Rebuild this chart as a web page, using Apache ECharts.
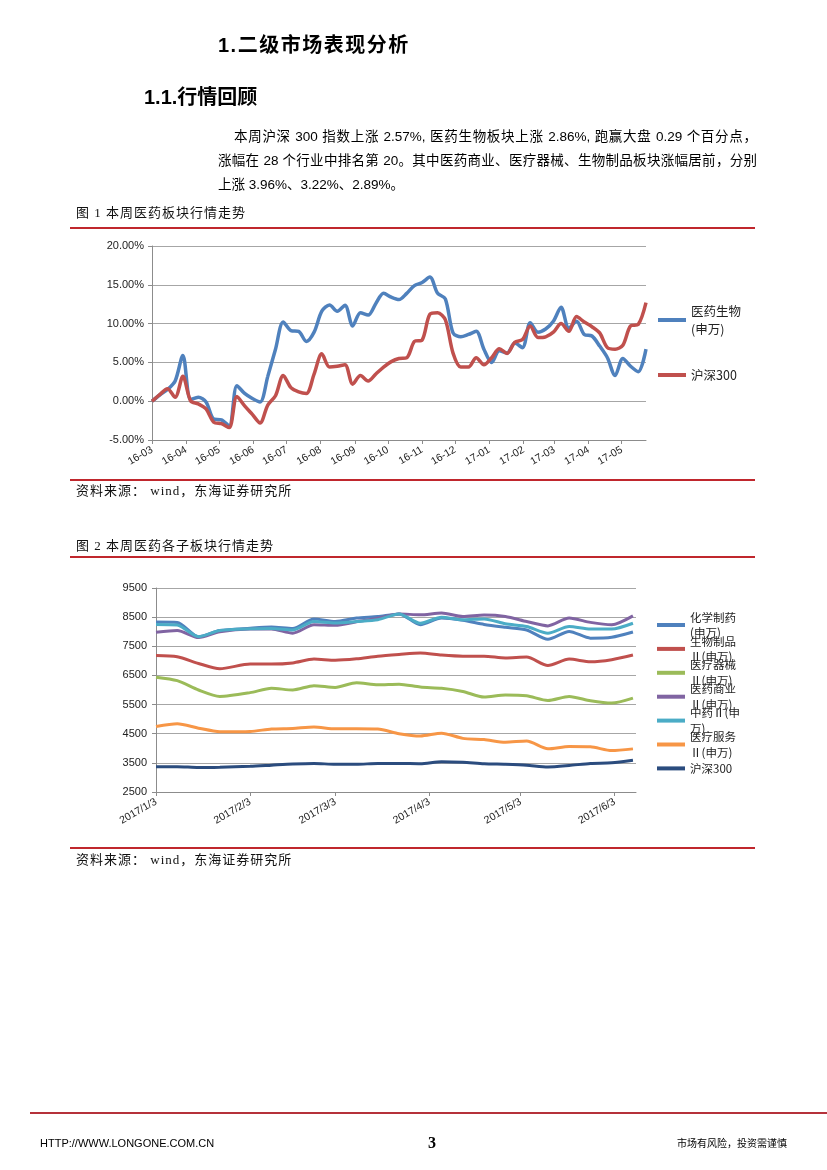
<!DOCTYPE html>
<html><head><meta charset="utf-8">
<script src="https://cdn.jsdelivr.net/npm/echarts@6/dist/echarts.min.js"></script>
<style>
html,body{margin:0;padding:0;background:#fff;}
#page{position:relative;width:827px;height:1170px;overflow:hidden;background:#fff;}
#chart{position:absolute;left:0;top:0;width:827px;height:1170px;}
.t{position:absolute;white-space:nowrap;color:#000;z-index:2;}
.h{font-family:"Liberation Sans","Noto Sans CJK SC",sans-serif;font-weight:bold;font-size:20px;line-height:22px;}
.p{font-family:"Liberation Sans","Noto Sans CJK SC",sans-serif;font-size:13.5px;line-height:20px;text-align:justify;text-align-last:justify;}
.cap{font-family:"Liberation Serif","Noto Sans CJK SC",serif;font-size:13px;line-height:16px;letter-spacing:1px;color:#111;}
.rule{position:absolute;left:70px;width:685px;height:2px;background:#C0272D;z-index:2;}
</style></head>
<body><div id="page">
<div id="chart"></div>
<div class="t h" style="left:218px;top:34px;letter-spacing:1.5px;">1.二级市场表现分析</div>
<div class="t h" style="left:144px;top:86px;">1.1.行情回顾</div>
<div class="t p" style="left:234px;top:127px;width:523px;">本周沪深 300 指数上涨 2.57%, 医药生物板块上涨 2.86%, 跑赢大盘 0.29 个百分点，</div>
<div class="t p" style="left:218px;top:151px;width:539px;">涨幅在 28 个行业中排名第 20。其中医药商业、医疗器械、生物制品板块涨幅居前，分别</div>
<div class="t p" style="left:218px;top:175px;text-align:left;text-align-last:left;">上涨 3.96%、3.22%、2.89%。</div>
<div class="t cap" style="left:76px;top:205px;">图 1 本周医药板块行情走势</div>
<div class="rule" style="top:227px;"></div>
<div class="rule" style="top:479px;"></div>
<div class="t cap" style="left:76px;top:483px;">资料来源： wind，东海证券研究所</div>
<div class="t cap" style="left:76px;top:538px;">图 2 本周医药各子板块行情走势</div>
<div class="rule" style="top:556px;"></div>
<div class="rule" style="top:847px;"></div>
<div class="t cap" style="left:76px;top:852px;">资料来源： wind，东海证券研究所</div>
<div style="position:absolute;left:30px;top:1112px;width:797px;height:1.5px;background:#B5313A;z-index:2;"></div>
<div class="t" style="left:40px;top:1136px;font-family:'Liberation Sans Narrow','Liberation Sans',sans-serif;font-size:11px;line-height:14px;">HTTP://WWW.LONGONE.COM.CN</div>
<div class="t" style="left:428px;top:1134px;font-family:'Liberation Serif',serif;font-weight:bold;font-size:16px;line-height:18px;">3</div>
<div class="t" style="left:677px;top:1136px;font-family:'Noto Sans CJK SC',sans-serif;font-size:10px;line-height:14px;">市场有风险，投资需谨慎</div>
</div>
<script>
// ---------- Figure 1 data (weekly, % change) ----------
const fig1Dates = ['2016-03-01','2016-03-08','2016-03-15','2016-03-22','2016-03-29','2016-04-05','2016-04-12','2016-04-19','2016-04-26',
'2016-05-03','2016-05-10','2016-05-17','2016-05-24','2016-05-31','2016-06-07','2016-06-14','2016-06-21','2016-06-28',
'2016-07-05','2016-07-12','2016-07-19','2016-07-26','2016-08-02','2016-08-09','2016-08-16','2016-08-23','2016-08-30',
'2016-09-06','2016-09-13','2016-09-20','2016-09-27','2016-10-04','2016-10-11','2016-10-18','2016-10-25',
'2016-11-01','2016-11-08','2016-11-15','2016-11-22','2016-11-29','2016-12-06','2016-12-13','2016-12-20','2016-12-27',
'2017-01-03','2017-01-10','2017-01-17','2017-01-24','2017-01-31','2017-02-07','2017-02-14','2017-02-21','2017-02-28',
'2017-03-07','2017-03-14','2017-03-21','2017-03-28','2017-04-04','2017-04-11','2017-04-18','2017-04-25',
'2017-05-02','2017-05-09','2017-05-16','2017-05-23'];
const fig1Pharma = [0.0,0.8,1.5,2.6,5.9,0.2,0.5,-0.1,-2.3,-2.4,-3.2,2.0,1.0,0.35,-0.1,3.2,6.7,10.2,
9.1,9.0,7.7,8.9,11.6,12.4,11.6,12.35,9.7,11.4,11.1,12.6,13.9,13.4,13.1,13.9,14.9,
15.3,16.0,13.9,13.2,8.8,8.3,8.6,9.0,6.7,5.0,6.5,6.2,7.5,6.9,10.1,8.9,9.3,10.3,
12.1,9.4,10.3,8.6,8.4,7.1,5.6,3.3,5.5,4.5,3.8,6.7];
const fig1HS300 = [0.0,0.85,1.6,0.5,3.2,0.05,-0.35,-1.0,-2.7,-2.9,-3.4,0.6,-0.6,-1.7,-2.8,-0.5,0.7,3.3,
1.75,1.2,1.0,3.5,6.1,4.4,4.5,4.7,2.2,3.3,2.6,3.5,4.4,5.1,5.5,5.6,7.7,
7.9,11.2,11.4,10.5,6.2,4.4,4.4,5.6,4.7,5.6,6.75,6.15,7.6,7.95,9.7,8.2,8.3,8.9,
10.0,9.0,10.9,10.2,9.6,8.8,6.9,6.7,7.2,9.7,9.9,12.7];
const fig1TickLabels = ['16-03','16-04','16-05','16-06','16-07','16-08','16-09','16-10','16-11','16-12','17-01','17-02','17-03','17-04','17-05'];
const fig1YTicks = [-5,0,5,10,15,20];
const fig1SeriesNames = ['医药生物(申万)','沪深300'];
const fig1LegendLabels = ['医药生物\n(申万)','沪深300'];

// ---------- Figure 2 data (index levels) ----------
const fig2Dates = ['2017-01-03','2017-01-10','2017-01-17','2017-01-24','2017-02-03','2017-02-10','2017-02-17','2017-02-24',
'2017-03-03','2017-03-10','2017-03-17','2017-03-24','2017-03-31','2017-04-07','2017-04-14','2017-04-21','2017-04-28',
'2017-05-05','2017-05-12','2017-05-19','2017-05-26','2017-06-02','2017-06-09'];
const fig2ChemPharma  = [8330,8320,7830,8040,8120,8160,8110,8440,8350,8470,8520,8610,8240,8470,8390,8250,8150,8060,7740,8010,7780,7810,7990];
const fig2BioProducts = [7180,7140,6910,6730,6890,6890,6930,7060,7020,7070,7160,7220,7270,7200,7160,7160,7100,7130,6840,7060,6970,7040,7200];
const fig2MedDevices  = [6440,6320,6000,5780,5910,6060,6000,6150,6090,6250,6180,6200,6100,6060,5950,5760,5830,5800,5640,5780,5630,5550,5720];
const fig2MedCommerce = [7980,8040,7800,8000,8090,8090,7950,8240,8220,8340,8460,8610,8580,8640,8520,8570,8520,8350,8200,8470,8320,8240,8545];
const fig2TCM         = [8250,8230,7830,8040,8100,8110,8060,8350,8300,8350,8410,8610,8290,8500,8410,8440,8270,8180,7950,8180,8090,8090,8290];
const fig2MedServices = [4750,4840,4690,4570,4580,4660,4680,4730,4670,4670,4660,4500,4420,4520,4340,4300,4210,4250,3980,4060,4050,3920,3980];
const fig2HS300       = [3370,3370,3340,3350,3380,3420,3460,3480,3450,3450,3480,3480,3470,3540,3520,3470,3450,3420,3360,3410,3480,3500,3590];
const fig2TickLabels = ['2017/1/3','2017/2/3','2017/3/3','2017/4/3','2017/5/3','2017/6/3'];
const fig2SeriesNames = ['化学制药(申万)','生物制品Ⅱ(申万)','医疗器械Ⅱ(申万)','医药商业Ⅱ(申万)','中药Ⅱ(申万)','医疗服务Ⅱ(申万)','沪深300(图2)'];
const fig2LegendLabels = ['化学制药\n(申万)','生物制品\nⅡ(申万)','医疗器械\nⅡ(申万)','医药商业\nⅡ(申万)','中药Ⅱ(申\n万)','医疗服务\nⅡ(申万)','沪深300'];
const fig2Values = [fig2ChemPharma, fig2BioProducts, fig2MedDevices, fig2MedCommerce, fig2TCM, fig2MedServices, fig2HS300];

// ---------- styles ----------
const fig1Colors = ['#4F81BD','#C0504D'];
const fig2Colors = ['#4F81BD','#C0504D','#9BBB59','#8064A2','#4BACC6','#F79646','#2B4C7E'];

function ts(s){ const p = s.split(/[-\/]/).map(Number); return new Date(p[0], p[1]-1, p[2]).getTime(); }
function pad(n){ return (n<10?'0':'')+n; }
const fig1Ticks = fig1TickLabels.map(l => ts('20'+l+'-01'));
const fig2Ticks = fig2TickLabels.map(l => ts(l));

const legendMap = {};
fig1SeriesNames.forEach((n,i)=>legendMap[n]=fig1LegendLabels[i]);
fig2SeriesNames.forEach((n,i)=>legendMap[n]=fig2LegendLabels[i]);

const axisGray = '#8c8c8c';
const numFont = 'Liberation Sans';

const series = [];
[fig1Pharma, fig1HS300].forEach((vals, i) => {
  series.push({
    name: fig1SeriesNames[i], type: 'line', xAxisIndex: 0, yAxisIndex: 0,
    data: fig1Dates.map((d, k) => [ts(d), vals[k]]),
    smooth: 0.3, showSymbol: false, symbol: 'none',
    lineStyle: { width: 3.5, color: fig1Colors[i] }, itemStyle: { color: fig1Colors[i] },
    emphasis: { disabled: true }
  });
});
fig2Values.forEach((vals, i) => {
  series.push({
    name: fig2SeriesNames[i], type: 'line', xAxisIndex: 1, yAxisIndex: 1,
    data: fig2Dates.map((d, k) => [ts(d), vals[k]]),
    smooth: 0.25, showSymbol: false, symbol: 'none',
    lineStyle: { width: 3, color: fig2Colors[i] }, itemStyle: { color: fig2Colors[i] },
    emphasis: { disabled: true }
  });
});

function xAxisCfg(gridIndex, min, max, ticks, fmt) {
  return { type: 'value', gridIndex: gridIndex, min: min, max: max, scale: true,
    axisLine: { show: true, onZero: false, lineStyle: { color: axisGray, width: 1 } },
    axisTick: { show: true, length: 4, lineStyle: { color: axisGray }, customValues: ticks },
    minorTick: { show: false },
    axisLabel: { customValues: ticks, rotate: 30, margin: 9, fontSize: 10.5, color: '#222', fontFamily: numFont,
      hideOverlap: false, showMinLabel: true, showMaxLabel: true, formatter: fmt },
    splitLine: { show: false } };
}

const chart = echarts.init(document.getElementById('chart'), null, { renderer: 'canvas' });
chart.setOption({
  animation: false,
  backgroundColor: 'transparent',
  grid: [
    { left: 152, top: 246, width: 494, height: 194, outerBoundsMode: 'none', containLabel: false },
    { left: 156, top: 588, width: 480, height: 204, outerBoundsMode: 'none', containLabel: false }
  ],
  xAxis: [
    xAxisCfg(0, ts(fig1Dates[0]), ts(fig1Dates[fig1Dates.length-1]), fig1Ticks,
      v => { const d = new Date(v); return String(d.getFullYear()).slice(2) + '-' + pad(d.getMonth()+1); }),
    xAxisCfg(1, ts(fig2Dates[0]), ts('2017-06-10'), fig2Ticks,
      v => { const d = new Date(v); return d.getFullYear() + '/' + (d.getMonth()+1) + '/' + d.getDate(); })
  ],
  yAxis: [
    { type: 'value', gridIndex: 0, min: fig1YTicks[0], max: fig1YTicks[fig1YTicks.length-1], interval: 5,
      axisLine: { show: true, lineStyle: { color: axisGray } },
      axisTick: { show: true, length: 4, lineStyle: { color: axisGray } },
      axisLabel: { margin: 8, fontSize: 11, color: '#222', fontFamily: numFont, formatter: v => v.toFixed(2) + '%' },
      splitLine: { show: true, lineStyle: { color: '#a6a6a6', width: 1 } } },
    { type: 'value', gridIndex: 1, min: 2500, max: 9500, interval: 1000,
      axisLine: { show: true, lineStyle: { color: axisGray } },
      axisTick: { show: true, length: 4, lineStyle: { color: axisGray } },
      axisLabel: { margin: 9, fontSize: 11, color: '#222', fontFamily: numFont, formatter: v => String(v) },
      splitLine: { show: true, lineStyle: { color: '#a6a6a6', width: 1 } } }
  ],
  legend: [
    { orient: 'vertical', left: 658, top: 293, padding: 0, itemWidth: 28, itemHeight: 4, itemGap: 19, icon: 'rect',
      selectedMode: false, itemStyle: { borderWidth: 0 },
      data: [ { name: fig1SeriesNames[0], textStyle: { padding: [18, 0, 0, 0] } }, { name: fig1SeriesNames[1] } ],
      formatter: n => legendMap[n],
      textStyle: { fontSize: 12.5, lineHeight: 18, color: '#222', fontFamily: 'Noto Sans CJK SC', backgroundColor: 'rgba(0,0,0,0)' } },
    { orient: 'vertical', left: 657, top: 601.75, padding: 0, itemWidth: 28, itemHeight: 4, itemGap: -22.6, icon: 'rect',
      selectedMode: false, itemStyle: { borderWidth: 0 },
      data: fig2SeriesNames.map((n, i) => ({ name: n, textStyle: { padding: i === fig2SeriesNames.length-1 ? [15.5, 0, 15.5, 0] : [15.5, 0, 0, 0] } })),
      formatter: n => legendMap[n],
      textStyle: { fontSize: 11.5, lineHeight: 15.5, color: '#222', fontFamily: 'Noto Sans CJK SC', backgroundColor: 'rgba(0,0,0,0)' } }
  ],
  series: series
});
</script>
</body></html>
